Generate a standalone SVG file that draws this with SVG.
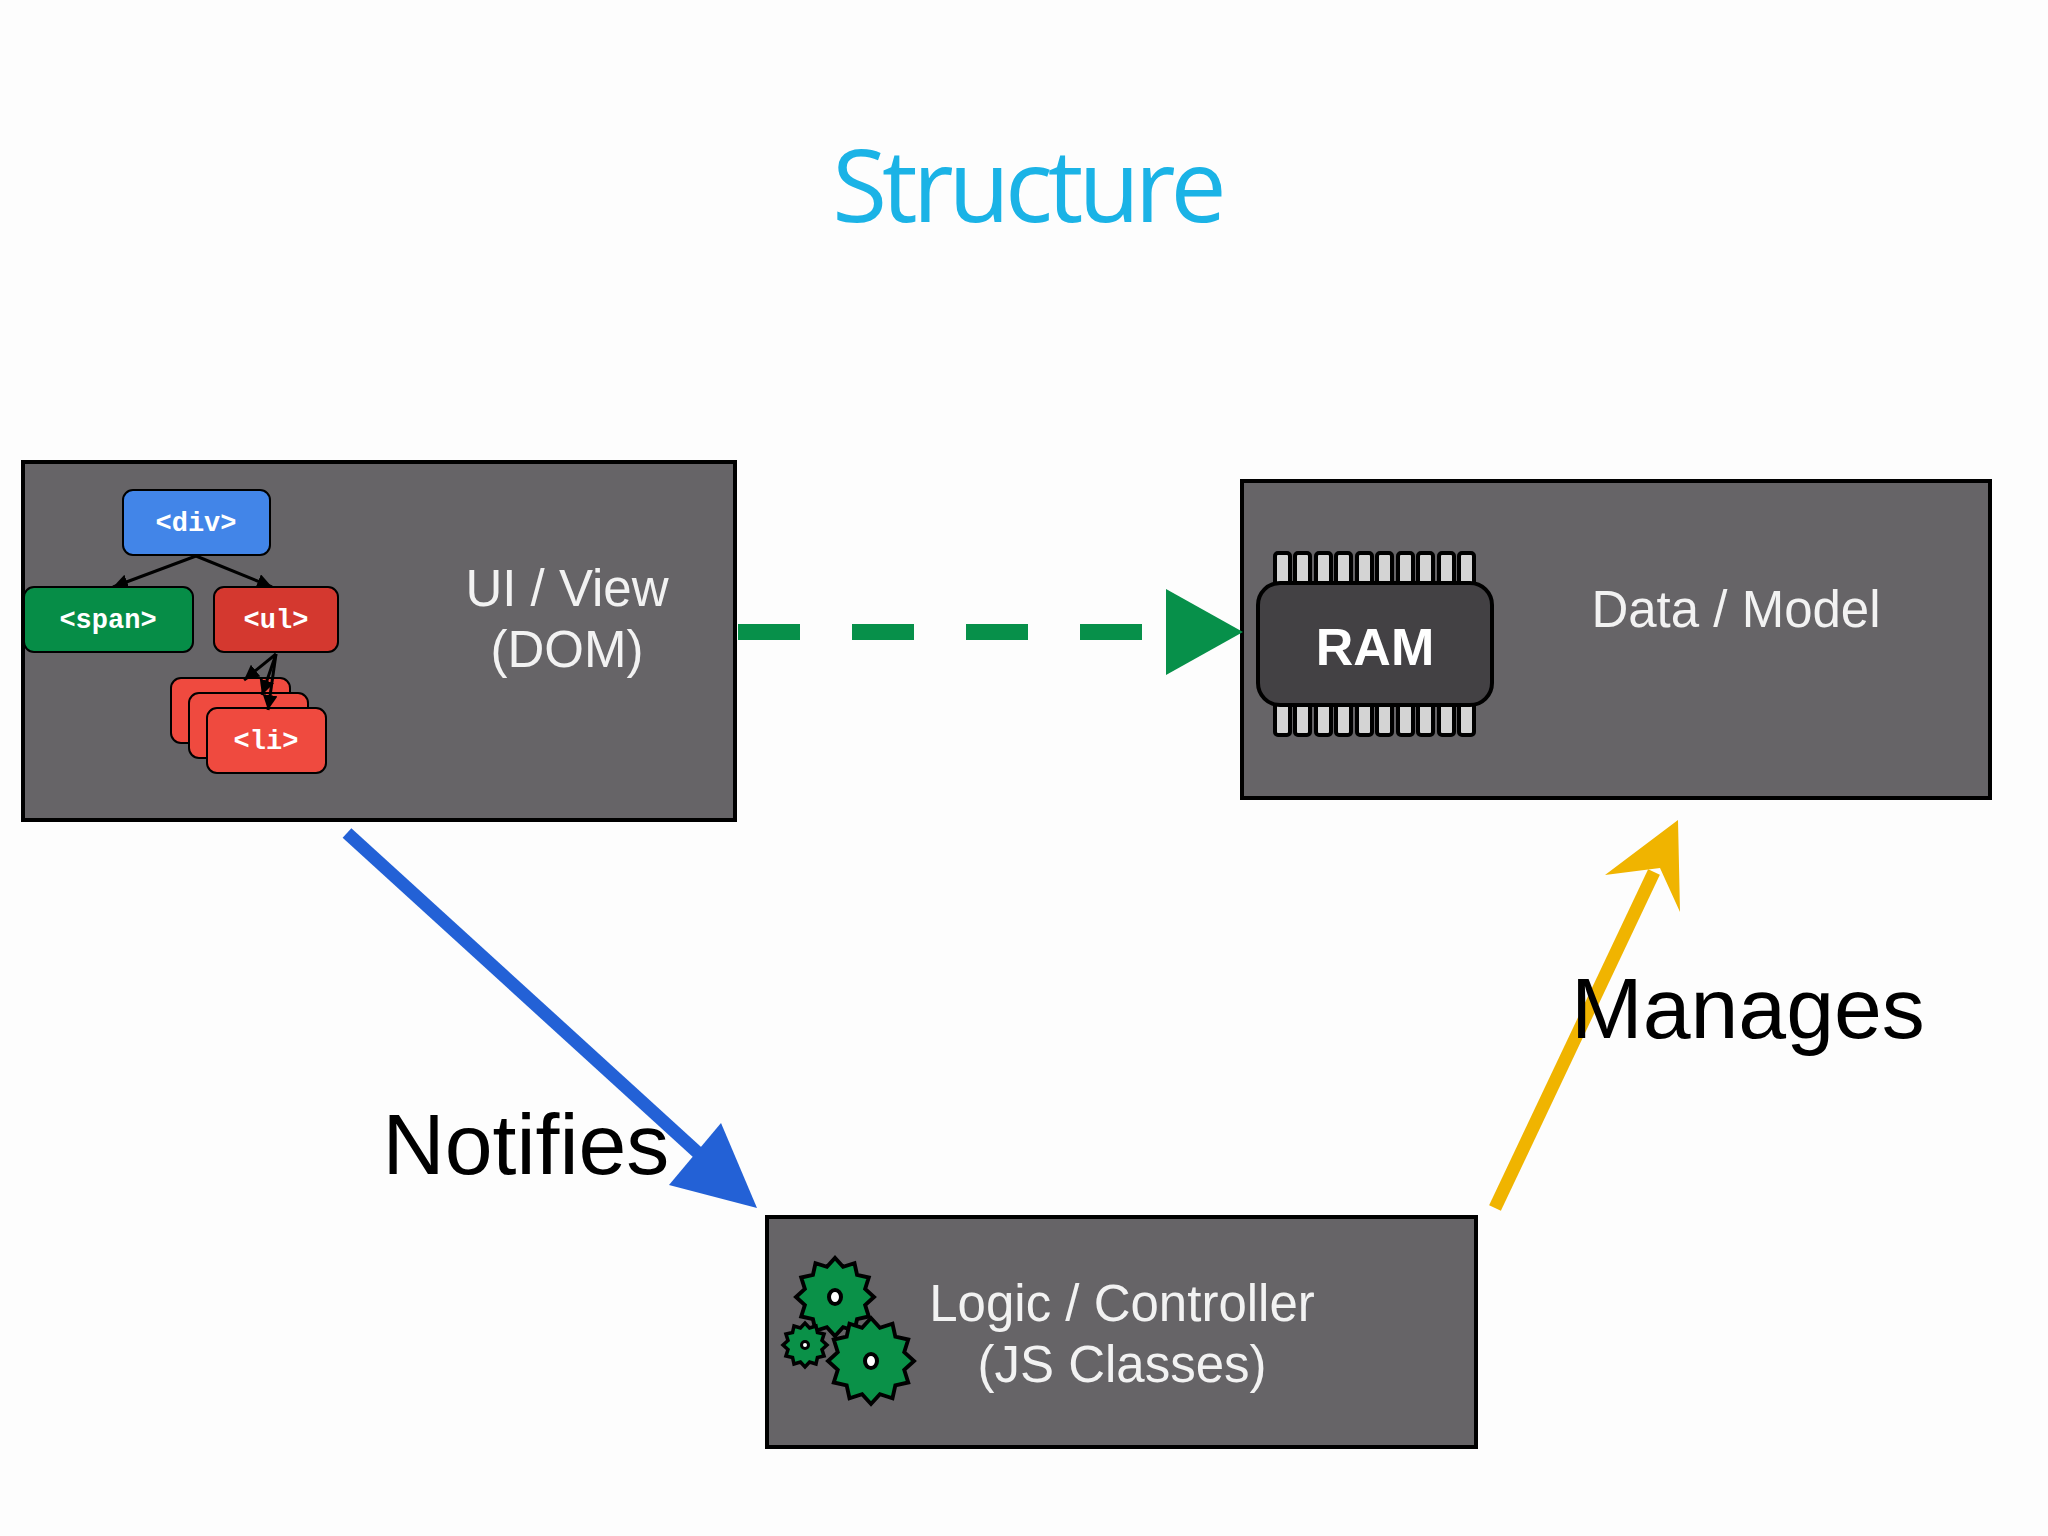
<svg xmlns="http://www.w3.org/2000/svg" width="2048" height="1536" viewBox="0 0 2048 1536">
<style>
.box{fill:#666467;stroke:#000;stroke-width:4}
.lbl{font-family:"Liberation Sans",Arial,sans-serif;font-size:51px;fill:#f2f2f2;text-anchor:middle}
.tag{font-family:"Liberation Mono",monospace;font-weight:bold;font-size:27px;fill:#fff;text-anchor:middle}
.big{font-family:"Liberation Sans",sans-serif;font-size:86px;fill:#000}
.pin{fill:#d4d4d4;stroke:#000;stroke-width:4}
.gear{fill:#0a9148;stroke:#000}
</style>
<defs>
<marker id="ah" viewBox="0 0 10 10" refX="10" refY="5" markerWidth="5" markerHeight="5" orient="auto"><path d="M0,0L10,5L0,10z" fill="#000"/></marker>
<polygon id="star" points="10,0 7.73,2.07 8.66,5 5.66,5.66 5,8.66 2.07,7.73 0,10 -2.07,7.73 -5,8.66 -5.66,5.66 -8.66,5 -7.73,2.07 -10,0 -7.73,-2.07 -8.66,-5 -5.66,-5.66 -5,-8.66 -2.07,-7.73 0,-10 2.07,-7.73 5,-8.66 5.66,-5.66 8.66,-5 7.73,-2.07"/>
</defs>
<rect width="2048" height="1536" fill="#fdfdfd"/>
<text x="1027" y="222" font-family="'Open Sans','Liberation Sans',sans-serif" font-size="100" fill="#1bb3e6" text-anchor="middle" letter-spacing="-5">Structure</text>

<g id="view">
<rect class="box" x="23" y="462" width="712" height="358"/>
<g stroke="#000" stroke-width="3" fill="none">
<line x1="196" y1="556" x2="113" y2="587" marker-end="url(#ah)"/>
<line x1="196" y1="556" x2="272" y2="587" marker-end="url(#ah)"/>
</g>
<rect x="123" y="490" width="147" height="65" rx="10" fill="#4285e8" stroke="#000" stroke-width="2"/>
<text class="tag" x="196" y="531">&lt;div&gt;</text>
<rect x="24" y="587" width="169" height="65" rx="10" fill="#068d47" stroke="#000" stroke-width="2"/>
<text class="tag" x="108" y="628">&lt;span&gt;</text>
<rect x="214" y="587" width="124" height="65" rx="10" fill="#d4382f" stroke="#000" stroke-width="2"/>
<text class="tag" x="276" y="628">&lt;ul&gt;</text>
<rect x="171" y="678" width="119" height="65" rx="10" fill="#ef4a3f" stroke="#000" stroke-width="2"/>
<rect x="189" y="693" width="119" height="65" rx="10" fill="#ef4a3f" stroke="#000" stroke-width="2"/>
<rect x="207" y="708" width="119" height="65" rx="10" fill="#ef4a3f" stroke="#000" stroke-width="2"/>
<text class="tag" x="266" y="749">&lt;li&gt;</text>
<g stroke="#000" stroke-width="3" fill="none">
<line x1="276" y1="654" x2="244" y2="680" marker-end="url(#ah)"/>
<line x1="276" y1="654" x2="262" y2="695" marker-end="url(#ah)"/>
<line x1="276" y1="654" x2="268" y2="710" marker-end="url(#ah)"/>
</g>
<text class="lbl" x="567" y="606">UI / View</text>
<text class="lbl" x="567" y="667">(DOM)</text>
</g>

<g id="model">
<rect class="box" x="1242" y="481" width="748" height="317"/>
<g>
<rect class="pin" x="1275" y="553" width="15" height="40" rx="3"/><rect class="pin" x="1295" y="553" width="15" height="40" rx="3"/><rect class="pin" x="1316" y="553" width="15" height="40" rx="3"/><rect class="pin" x="1336" y="553" width="15" height="40" rx="3"/><rect class="pin" x="1357" y="553" width="15" height="40" rx="3"/><rect class="pin" x="1377" y="553" width="15" height="40" rx="3"/><rect class="pin" x="1398" y="553" width="15" height="40" rx="3"/><rect class="pin" x="1418" y="553" width="15" height="40" rx="3"/><rect class="pin" x="1439" y="553" width="15" height="40" rx="3"/><rect class="pin" x="1459" y="553" width="15" height="40" rx="3"/>
<rect class="pin" x="1275" y="695" width="15" height="40" rx="3"/><rect class="pin" x="1295" y="695" width="15" height="40" rx="3"/><rect class="pin" x="1316" y="695" width="15" height="40" rx="3"/><rect class="pin" x="1336" y="695" width="15" height="40" rx="3"/><rect class="pin" x="1357" y="695" width="15" height="40" rx="3"/><rect class="pin" x="1377" y="695" width="15" height="40" rx="3"/><rect class="pin" x="1398" y="695" width="15" height="40" rx="3"/><rect class="pin" x="1418" y="695" width="15" height="40" rx="3"/><rect class="pin" x="1439" y="695" width="15" height="40" rx="3"/><rect class="pin" x="1459" y="695" width="15" height="40" rx="3"/>
<rect x="1258" y="583" width="234" height="122" rx="22" fill="#434144" stroke="#000" stroke-width="4"/>
<text x="1375" y="665" font-family="'Liberation Sans',sans-serif" font-weight="bold" font-size="52" fill="#fff" text-anchor="middle">RAM</text>
</g>
<text class="lbl" x="1736" y="627">Data / Model</text>
</g>

<g id="controller">
<rect class="box" x="767" y="1217" width="709" height="230"/>
<use href="#star" class="gear" transform="translate(835,1297) scale(3.9)" style="stroke-width:1"/>
<use href="#star" class="gear" transform="translate(871,1361) scale(4.3)" style="stroke-width:0.9"/>
<use href="#star" class="gear" transform="translate(805,1345) scale(2.2)" style="stroke-width:1.6"/>
<ellipse cx="835" cy="1297" rx="6" ry="7" fill="#fff" stroke="#000" stroke-width="4"/>
<ellipse cx="871" cy="1361" rx="6" ry="7" fill="#fff" stroke="#000" stroke-width="4"/>
<circle cx="805" cy="1345" r="3.5" fill="#fff" stroke="#000" stroke-width="3"/>
<text class="lbl" x="1122" y="1321">Logic / Controller</text>
<text class="lbl" x="1122" y="1382">(JS Classes)</text>
</g>

<g id="connectors">
<line x1="738" y1="632" x2="1166" y2="632" stroke="#07904a" stroke-width="16" stroke-dasharray="62,52"/>
<polygon points="1166,589 1243,632 1166,675" fill="#07904a"/>
<line x1="347" y1="833" x2="708" y2="1162" stroke="#2361d6" stroke-width="13"/>
<polygon points="669,1185 721,1123 757,1208" fill="#2361d6"/>
<line x1="1495" y1="1208" x2="1654" y2="872" stroke="#f0b400" stroke-width="13"/>
<polygon points="1605,875 1678,820 1680,912 1660,868" fill="#f0b400"/>
<text class="big" x="526" y="1174" text-anchor="middle">Notifies</text>
<text class="big" x="1571" y="1038">Manages</text>
</g>
</svg>
